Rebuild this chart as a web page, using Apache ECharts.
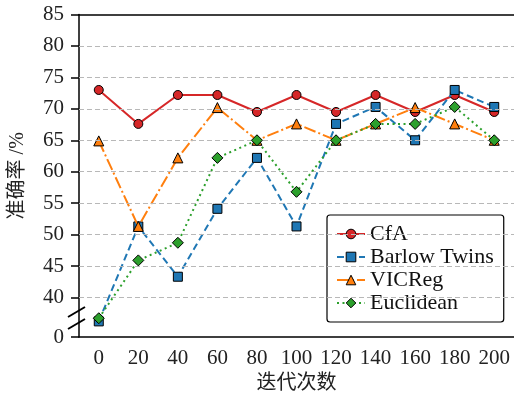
<!DOCTYPE html>
<html>
<head>
<meta charset="utf-8">
<script src="https://cdn.jsdelivr.net/npm/echarts@6/dist/echarts.min.js"></script>
<style>html,body{margin:0;padding:0;background:#fff}#c{width:514px;height:399px}</style>
</head>
<body>
<div id="c"></div>
<script>
// ---- data ----
const categories = ['0','20','40','60','80','100','120','140','160','180','200'];
const cfa        = [73.0, 67.6, 72.2, 72.2, 69.5, 72.2, 69.5, 72.2, 69.5, 72.2, 69.5];
const barlow     = [36.2, 51.3, 43.3, 54.1, 62.2, 51.3, 67.6, 70.3, 65.0, 73.0, 70.3];
const vicreg     = [64.9, 51.3, 62.2, 70.2, 65.0, 67.6, 65.0, 67.6, 70.2, 67.6, 65.0];
const euclidean  = [36.7, 45.9, 48.7, 62.2, 65.0, 56.8, 65.0, 67.6, 67.6, 70.3, 65.0];
const seriesNames = ['CfA', 'Barlow Twins', 'VICReg', 'Euclidean'];
// axis: the "0" tick sits below the break at the bottom of the axis
const yBreakBottom = 33.7;   // axis value where the "0" label is drawn
const yMax = 85;
const yTickValues = [33.7, 40, 45, 50, 55, 60, 65, 70, 75, 80, 85];
const yTickLabels = ['0', '40', '45', '50', '55', '60', '65', '70', '75', '80', '85'];
const gridValues = [40, 45, 50, 55, 60, 65, 70, 75, 80];

const serif = "'Liberation Serif', 'Noto Sans CJK SC', serif";
const chart = echarts.init(document.getElementById('c'), null, {renderer: 'canvas'});

function mk(name, data, color, symbol, size, ltype, z) {
  return {
    name, type: 'line', data, z,
    symbol, symbolSize: size,
    clip: false,
    lineStyle: {color, width: 2, type: ltype},
    itemStyle: {color, borderColor: '#000', borderWidth: 1},
    emphasis: {disabled: true},
    animation: false
  };
}

chart.setOption({
  animation: false,
  textStyle: {fontFamily: serif},
  grid: {left: 76.7, right: -2.7, top: 14.5, bottom: 59, show: false},
  xAxis: [{
    type: 'category', data: categories, boundaryGap: true,
    axisLine: {onZero: false, lineStyle: {color: '#000', width: 1.5}},
    axisTick: {alignWithLabel: true, interval: 0, length: 5, lineStyle: {color: '#000', width: 1.5}},
    axisLabel: {interval: 0, hideOverlap: false, color: '#222', fontSize: 21, margin: 11, fontFamily: serif},
    splitLine: {show: false},
    name: '迭代次数', nameLocation: 'middle', nameGap: 36,
    nameTextStyle: {fontSize: 20, color: '#222', fontFamily: serif}
  }, {
    type: 'category', data: categories, position: 'top',
    axisLine: {onZero: false, lineStyle: {color: '#000', width: 1.5}},
    axisTick: {show: false}, axisLabel: {show: false}, splitLine: {show: false}
  }],
  yAxis: {
    type: 'value', min: yBreakBottom, max: yMax, position: 'left',
    axisLine: {show: true, onZero: false, lineStyle: {color: '#000', width: 1.5}},
    axisTick: {show: true, customValues: yTickValues, length: 8, lineStyle: {color: '#000', width: 1.5}},
    axisLabel: {customValues: yTickValues, color: '#222', fontSize: 21, margin: 15, fontFamily: serif,
      formatter: v => yTickLabels[yTickValues.indexOf(v)] ?? ''},
    splitLine: {show: false},
    name: '准确率 /%', nameLocation: 'middle', nameRotate: 90, nameGap: 51,
    nameTextStyle: {fontSize: 20, color: '#222', fontFamily: serif}
  },
  legend: {
    data: seriesNames,
    left: 327, top: 215, orient: 'vertical',
    padding: [8, 10, 8, 9], itemGap: 1,
    itemWidth: 28, itemHeight: 12,
    backgroundColor: '#fff', borderColor: '#000', borderWidth: 1.2, borderRadius: 3,
    textStyle: {fontSize: 22, color: '#111', fontFamily: serif, lineHeight: 21},
    itemStyle: {borderColor: '#000', borderWidth: 1},
    selectedMode: false
  },
  series: [
    {
      name: 'grid', type: 'line', data: [], silent: true, z: 0,
      markLine: {
        silent: true, symbol: 'none', label: {show: false}, animation: false,
        lineStyle: {color: '#b8b8b8', width: 1, type: [5, 3]},
        emphasis: {disabled: true},
        data: gridValues.map(v => ({yAxis: v}))
      }
    },
    mk('CfA', cfa, '#d62728', 'circle', 9, 'solid', 2),
    mk('Barlow Twins', barlow, '#1f77b4', 'rect', 9, [7, 4], 3),
    mk('VICReg', vicreg, '#ff7f0e', 'triangle', 10, [12, 3, 2, 3], 4),
    mk('Euclidean', euclidean, '#2ca02c', 'diamond', 11, [2, 3.5], 5)
  ],
  graphic: [
    {type: 'line', shape: {x1: 68, y1: 317, x2: 85, y2: 307}, style: {stroke: '#000', lineWidth: 2}, z: 100},
    {type: 'line', shape: {x1: 68, y1: 329, x2: 85, y2: 319}, style: {stroke: '#000', lineWidth: 2}, z: 100}
  ]
});
</script>
</body>
</html>
